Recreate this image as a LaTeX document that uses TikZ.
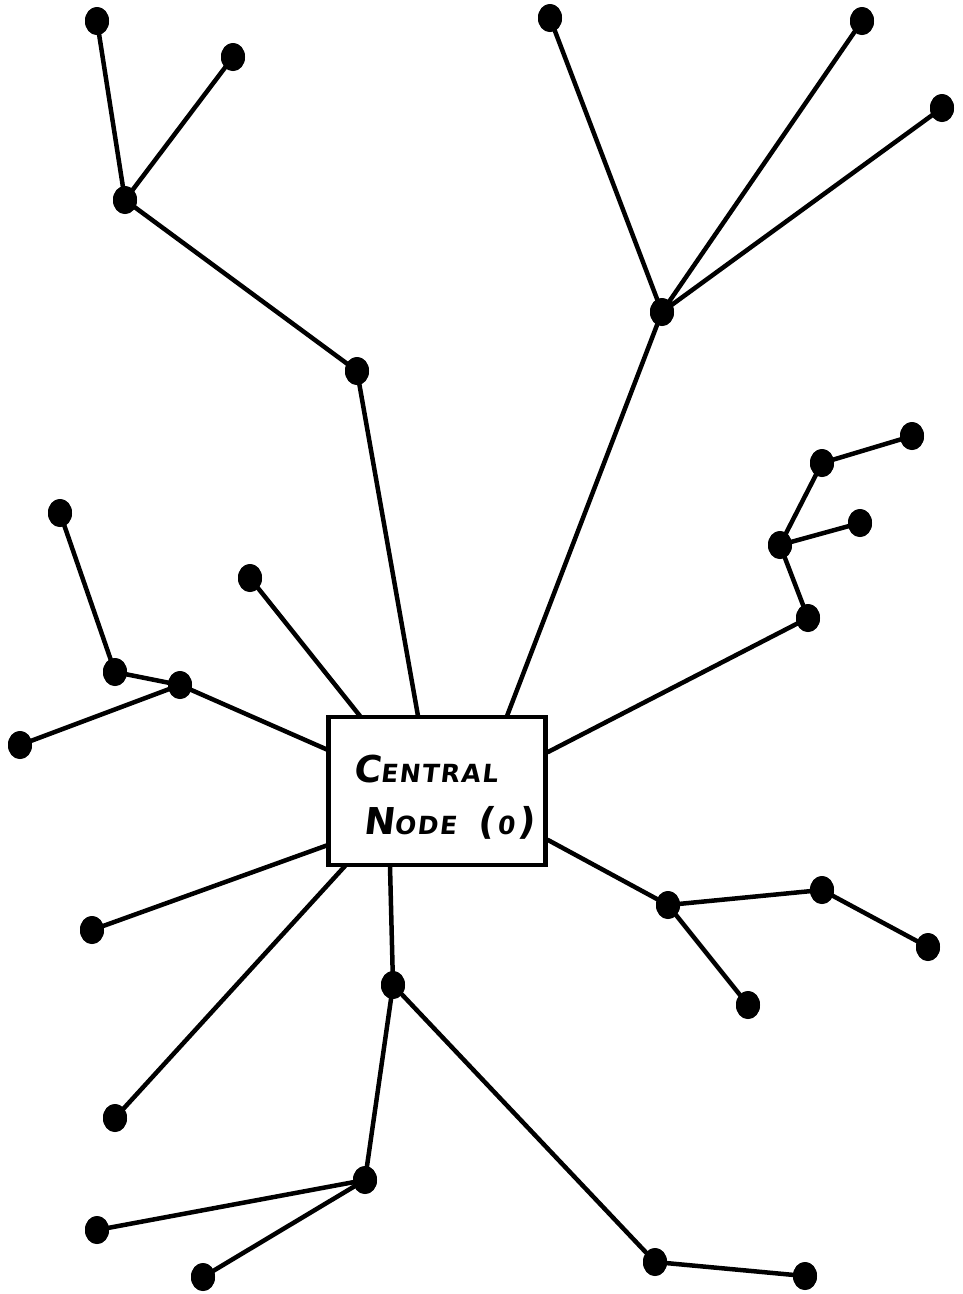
\documentclass[tikz,border=0pt]{standalone}
\usepackage{fontspec}
\newfontfamily\hand[FakeSlant=0.12,LetterSpace=6]{DejaVu Sans}
\usetikzlibrary{shapes.geometric}
\tikzset{
  dot/.style={ellipse, fill=black, inner sep=0pt, minimum width=24pt, minimum height=28pt},
  edge/.style={line width=4.5pt, line cap=round},
  centralbox/.style={draw, line width=4.5pt, fill=white, minimum width=217pt, minimum height=148pt, inner sep=0pt},
  label/.style={font=\hand\bfseries, anchor=base west, inner sep=0pt}
}
\begin{document}
\begin{tikzpicture}[x=1pt,y=-1pt]
\useasboundingbox (0,0) rectangle (963,1294);
\fill[white] (0,0) rectangle (963,1294);
% central box
\node[centralbox] (box) at (437,791) {};
% border coordinates
\coordinate (bt1) at (418,716);
\coordinate (bt2) at (507,716);
\coordinate (bt3) at (360,716);
\coordinate (br1) at (548,752);
\coordinate (br2) at (548,840);
\coordinate (bl1) at (328,750);
\coordinate (bl2) at (328,845);
\coordinate (bb1) at (345,866);
\coordinate (bb2) at (390,866);
% dots
\node[dot] (a1) at (357,371) {};
\node[dot] (a2) at (125,200) {};
\node[dot] (a3) at (97,21) {};
\node[dot] (a4) at (233,57) {};
\node[dot] (b1) at (662,312) {};
\node[dot] (b2) at (550,18) {};
\node[dot] (b3) at (862,21) {};
\node[dot] (b4) at (942,108) {};
\node[dot] (c1) at (808,618) {};
\node[dot] (c2) at (780,545) {};
\node[dot] (c3) at (822,463) {};
\node[dot] (c4) at (912,436) {};
\node[dot] (c5) at (860,523) {};
\node[dot] (d1) at (250,578) {};
\node[dot] (e1) at (180,685) {};
\node[dot] (e2) at (115,672) {};
\node[dot] (e3) at (60,513) {};
\node[dot] (e4) at (20,745) {};
\node[dot] (f1) at (92,930) {};
\node[dot] (g1) at (115,1118) {};
\node[dot] (h1) at (393,985) {};
\node[dot] (h2) at (365,1180) {};
\node[dot] (h3) at (97,1230) {};
\node[dot] (h4) at (203,1277) {};
\node[dot] (h5) at (655,1262) {};
\node[dot] (h6) at (805,1276) {};
\node[dot] (i1) at (668,905) {};
\node[dot] (i2) at (822,890) {};
\node[dot] (i3) at (928,947) {};
\node[dot] (i4) at (748,1005) {};
% edges
\draw[edge] (bt1) -- (a1.center) (a1.center) -- (a2.center) (a2.center) -- (a3.center) (a2.center) -- (a4.center);
\draw[edge] (bt2) -- (b1.center) (b1.center) -- (b2.center) (b1.center) -- (b3.center) (b1.center) -- (b4.center);
\draw[edge] (br1) -- (c1.center) (c1.center) -- (c2.center) (c2.center) -- (c3.center) (c3.center) -- (c4.center) (c2.center) -- (c5.center);
\draw[edge] (bt3) -- (d1.center);
\draw[edge] (bl1) -- (e1.center) (e1.center) -- (e2.center) (e2.center) -- (e3.center) (e1.center) -- (e4.center);
\draw[edge] (bl2) -- (f1.center);
\draw[edge] (bb1) -- (g1.center);
\draw[edge] (bb2) -- (h1.center) (h1.center) -- (h2.center) (h2.center) -- (h3.center) (h2.center) -- (h4.center) (h1.center) -- (h5.center) (h5.center) -- (h6.center);
\draw[edge] (br2) -- (i1.center) (i1.center) -- (i2.center) (i2.center) -- (i3.center) (i1.center) -- (i4.center);
% dots on top of the lines
\foreach \n in {a1,a2,a3,a4,b1,b2,b3,b4,c1,c2,c3,c4,c5,d1,e1,e2,e3,e4,f1,g1,h1,h2,h3,h4,h5,h6,i1,i2,i3,i4}
  \fill (\n.center) ellipse [x radius=12pt, y radius=14pt];
% box on top
\node[centralbox] (box2) at (box.center) {};
\node[label] (t1) at (353,782) {{\fontsize{37}{37}\selectfont C}{\fontsize{25}{25}\selectfont ENTRAL}};
\node[label] (t2) at (363,834) {{\fontsize{37}{37}\selectfont N}{\fontsize{25}{25}\selectfont ODE}};
\node[label] (t3) at (477,834) {{\fontsize{37}{37}\selectfont(\kern3pt}{\fontsize{25}{25}\selectfont 0}{\fontsize{37}{37}\selectfont\kern3pt)}};
\end{tikzpicture}
\end{document}
